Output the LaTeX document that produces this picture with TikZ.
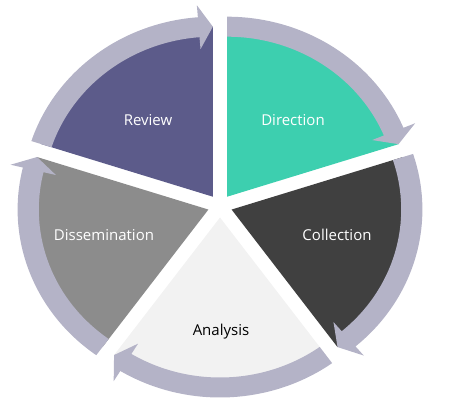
\documentclass[tikz,border=0pt]{standalone}
\usepackage{fontspec}
\setmainfont{Open Sans}
\definecolor{crev}{RGB}{92,91,138}
\definecolor{cdir}{RGB}{61,207,175}
\definecolor{ccol}{RGB}{64,64,64}
\definecolor{cana}{RGB}{242,242,242}
\definecolor{cdis}{RGB}{140,140,140}
\definecolor{cring}{RGB}{180,179,199}
\tikzset{
  lbl/.style={anchor=base, font=\fontsize{15}{18}\selectfont, inner sep=0pt},
}
\begin{document}
\begin{tikzpicture}[x=1pt,y=1pt]
\useasboundingbox (0,0) rectangle (452,410);
\begin{scope}[shift={(220,204)}, xscale=1.06]
\foreach \s/\c in {162/crev, 90/cdir, 18/ccol, -54/cana, -126/cdis} {
  \pgfmathsetmacro\e{\s-72}
  \pgfmathsetmacro\m{\s-36}
  \pgfmathsetmacro\b{\e+4.5}
  \begin{scope}[shift={(\m:11.5)}]
    \fill[\c] (0,0) -- (\s:170) arc[start angle=\s, end angle=\e, radius=170] -- cycle;
    \fill[cring] (\s:180) arc[start angle=\s, end angle=\b, radius=180]
      -- (\b:192) -- (\e:170) -- (\b:148) -- (\b:160)
      arc[start angle=\b, end angle=\s, radius=160] -- cycle;
  \end{scope}
}
\end{scope}
\node[lbl, text=white] (review) at (148,284) {Review};
\node[lbl, text=white] (direction) at (293,284) {Direction};
\node[lbl, text=white] (dissemination) at (104,170) {Dissemination};
\node[lbl, text=white] (collection) at (337,169.5) {Collection};
\node[lbl, text=black] (analysis) at (221,75) {Analysis};
\end{tikzpicture}
\end{document}
